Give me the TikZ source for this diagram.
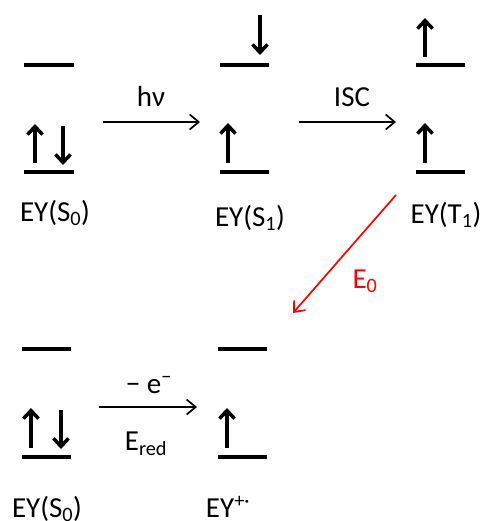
\documentclass[tikz,border=0pt]{standalone}
\usepackage{fontspec}
\setmainfont{Carlito}
\usetikzlibrary{arrows.meta}
\begin{document}
\begin{tikzpicture}[x=1pt,y=-1pt,
  level/.style={line width=4pt},
  spin/.style={line width=3.5pt,-{Straight Barb[length=8pt,width=15pt]}},
  react/.style={line width=1.7pt,-{Straight Barb[length=9pt,width=15pt]}},
  lbl/.style={font=\fontsize{29}{33}\selectfont, inner sep=0pt, anchor=base},
]
\useasboundingbox (0,0) rectangle (485,521);
% levels, top row
\draw[level] (24,65) -- (74,65);
\draw[level] (24,172) -- (74,172);
\draw[level] (220,65) -- (269,65);
\draw[level] (220,172) -- (269,172);
\draw[level] (416,65) -- (465,65);
\draw[level] (416,172) -- (465,172);
% levels, bottom row
\draw[level] (22,349) -- (71,349);
\draw[level] (22,457) -- (71,457);
\draw[level] (218,349) -- (267,349);
\draw[level] (218,457) -- (267,457);
% spins
\draw[spin] (35,163) -- (35,124);
\draw[spin] (63,126) -- (63,165);
\draw[spin] (260,15) -- (260,55);
\draw[spin] (228,163) -- (228,123);
\draw[spin] (425,57) -- (425,18);
\draw[spin] (425,163) -- (425,123);
\draw[spin] (31,448) -- (31,408);
\draw[spin] (61,410) -- (61,449);
\draw[spin] (227,448) -- (227,408);
% state labels
\node[lbl] (s0) at (55,221) {EY(S\textsubscript{0})};
\node[lbl] (s1) at (250,226) {EY(S\textsubscript{1})};
\node[lbl] (t1) at (446,223) {EY(T\textsubscript{1})};
\node[lbl] (s0b) at (47,517) {EY(S\textsubscript{0})};
\node[lbl] (cat) at (228,517) {EY\textsuperscript{+·}};
% reaction arrows
\coordinate (a1) at (103,122); \coordinate (a2) at (200,122);
\coordinate (b1) at (299,122); \coordinate (b2) at (396,122);
\coordinate (c1) at (396,195); \coordinate (c2) at (293,313);
\coordinate (d1) at (99,407);  \coordinate (d2) at (197,407);
\draw[react] (a1) -- (a2);
\draw[react] (b1) -- (b2);
\draw[react, red] (c1) -- (c2);
\draw[react] (d1) -- (d2);
\node[lbl] (hv) at (151,107) {hν};
\node[lbl] (isc) at (352,107) {ISC};
\node[lbl, red] (e0) at (365,288) {E\textsubscript{0}};
\node[lbl] (me) at (149,393) {− e\textsuperscript{−}};
\node[lbl] (ered) at (146,450) {E\textsubscript{red}};
\end{tikzpicture}
\end{document}
